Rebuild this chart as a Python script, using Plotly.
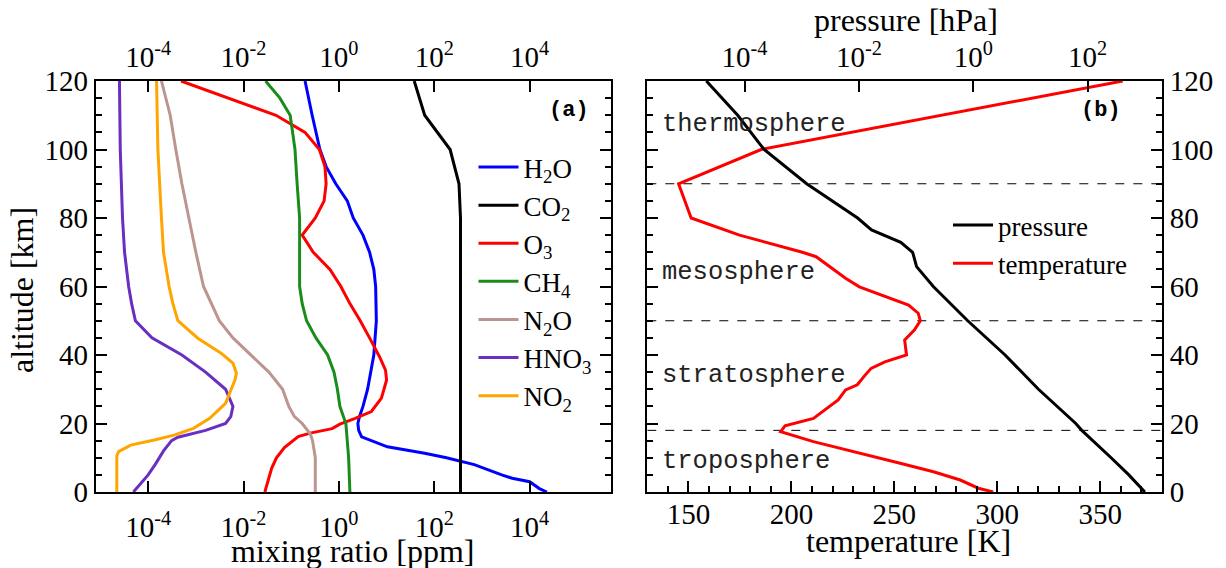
import plotly.graph_objects as go

# ---------------- data: panel (a) mixing ratios [ppm] vs altitude [km] ----------------
h2o_alt = [0, 1, 3, 4, 5, 8, 10, 11.3, 13.2, 15.2, 16.1, 18, 20, 22, 25, 30, 40, 50, 60, 65, 70, 75, 80, 85, 90, 95, 100, 110, 120]
h2o_ppm = [2.3e4, 1.6e4, 1.0e4, 4.3e3, 2.6e3, 690, 180, 63, 10.4, 4.4, 3.0, 2.6, 2.5, 2.7, 3.2, 4.0, 5.4, 6.1, 5.9, 5.4, 4.4, 3.2, 2.0, 1.5, 0.86, 0.54, 0.40, 0.275, 0.195]

co2_alt = [0, 80, 90, 100, 110, 120]
co2_ppm = [355, 355, 330, 215, 63, 38]

o3_alt = [0, 4, 7, 10, 13, 16.2, 17.2, 18.5, 19.8, 21.5, 23.5, 27.4, 32.7, 35.6, 39.5, 45, 50, 55, 60, 65, 70, 75, 80, 85, 90, 95, 100, 105, 110, 120]
o3_ppm = [0.028, 0.034, 0.039, 0.049, 0.072, 0.14, 0.25, 0.72, 1.05, 2.2, 4.8, 7.8, 10, 9.5, 7.1, 4.4, 2.8, 1.7, 1.1, 0.65, 0.29, 0.17, 0.32, 0.49, 0.54, 0.51, 0.39, 0.195, 0.048, 4.9e-4]

ch4_alt = [0, 10, 20, 25, 30, 35, 40, 45, 50, 55, 60, 80, 90, 100, 105, 110, 115, 120]
ch4_ppm = [1.7, 1.6, 1.4, 1.05, 0.93, 0.79, 0.58, 0.33, 0.21, 0.17, 0.15, 0.15, 0.133, 0.12, 0.107, 0.095, 0.058, 0.029]

n2o_alt = [0, 10, 15, 17, 20, 22, 25, 30, 35, 40, 45, 50, 55, 60, 70, 80, 90, 100, 110, 120]
n2o_ppm = [0.32, 0.32, 0.28, 0.25, 0.17, 0.117, 0.089, 0.066, 0.034, 0.0145, 0.006, 0.0031, 0.0021, 0.00145, 0.001, 7.1e-4, 5.1e-4, 3.8e-4, 2.9e-4, 1.9e-4]

hno3_alt = [0, 5, 8, 12, 15, 16, 18, 20, 22, 25, 30, 35, 40, 45, 50, 55, 60, 70, 80, 100, 120]
hno3_ppm = [4.9e-5, 1.0e-4, 1.4e-4, 2.1e-4, 3.1e-4, 4.2e-4, 1.6e-3, 4.2e-3, 5.4e-3, 6.0e-3, 4.2e-3, 1.6e-3, 5.1e-4, 1.2e-4, 5.4e-5, 4.5e-5, 3.9e-5, 3.2e-5, 2.9e-5, 2.6e-5, 2.5e-5]

no2_alt = [0, 10.5, 11.8, 13.7, 15.2, 16.6, 18.6, 21.5, 25.9, 32.7, 34.7, 37.6, 40.5, 44.9, 50, 55, 60, 70, 80, 100, 120]
no2_ppm = [2.2e-5, 2.2e-5, 2.4e-5, 4.3e-5, 1.35e-4, 3.5e-4, 8.9e-4, 1.95e-3, 4.2e-3, 6.6e-3, 7.1e-3, 6.0e-3, 3.4e-3, 1.1e-3, 4.2e-4, 3.3e-4, 2.75e-4, 2.1e-4, 1.9e-4, 1.6e-4, 1.5e-4]

species = ["H<sub>2</sub>O", "CO<sub>2</sub>", "O<sub>3</sub>", "CH<sub>4</sub>", "N<sub>2</sub>O", "HNO<sub>3</sub>", "NO<sub>2</sub>"]

# ---------------- data: panel (b) ----------------
temp_alt = [0, 1.1, 3.5, 5.9, 8.4, 11.3, 14.7, 17.6, 19.3, 21.5, 25, 26.9, 29.8, 31.3, 34.2, 36.1, 38, 40, 44.4, 47.3, 50, 52.2, 54.6, 59.9, 62.4, 65, 68.7, 70, 75, 80, 90, 100, 120]
temp_K = [298, 290.8, 282, 269, 252.8, 233.4, 210.7, 194.8, 196.9, 210.7, 218.7, 222.7, 226.3, 232, 235.9, 238.7, 245.4, 255.9, 255, 259.7, 262.6, 261.6, 256.9, 233, 226.3, 220.6, 212, 205.3, 174.8, 151.3, 145.2, 185.3, 360.9]

pres_alt = [0, 5, 10, 18, 20, 30, 40, 50, 60, 65.8, 70, 72.9, 76.5, 80, 90, 100, 110, 120]
pres_hPa = [1000, 525, 257, 79, 62, 13.8, 3.6, 0.80, 0.20, 0.102, 0.087, 0.054, 0.0166, 0.0095, 0.00122, 2.2e-4, 7.6e-5, 2.15e-5]

layer_bounds = [18, 50, 90]
layer_names = ["troposphere", "stratosphere", "mesosphere", "thermosphere"]
layer_label_alt = [8.8, 34, 64, 107.4]

mix_tickvals = [1e-4, 1e-2, 1, 1e2, 1e4]
mix_ticktext = ["10<sup>-4</sup>", "10<sup>-2</sup>", "10<sup>0</sup>", "10<sup>2</sup>", "10<sup>4</sup>"]
p_tickvals = [1e-4, 1e-2, 1, 1e2]
p_ticktext = ["10<sup>-4</sup>", "10<sup>-2</sup>", "10<sup>0</sup>", "10<sup>2</sup>"]
alt_tickvals = [0, 20, 40, 60, 80, 100, 120]
temp_tickvals = [150, 200, 250, 300, 350]

# ---------------- figure ----------------
SERIF = "Liberation Serif"
MONO = "Liberation Mono"
W, H = 1226, 568


def px_x(p):
    return p / W


def px_y(p):
    return (H - p) / H


xa = [px_x(95.7), px_x(610.7)]
xb = [px_x(647.3), px_x(1162)]
yd = [px_y(492), px_y(81)]

colors = ["#0000ff", "#000000", "#ff0000", "#1a8c1a", "#bc9590", "#6a2ec0", "#ffa500"]
alts = [h2o_alt, co2_alt, o3_alt, ch4_alt, n2o_alt, hno3_alt, no2_alt]
vals = [h2o_ppm, co2_ppm, o3_ppm, ch4_ppm, n2o_ppm, hno3_ppm, no2_ppm]

fig = go.Figure()
for name, a, v, c in zip(species, alts, vals, colors):
    fig.add_trace(go.Scatter(x=v, y=a, mode="lines", name=name, line=dict(color=c, width=3),
                             xaxis="x", yaxis="y", legend="legend"))
# carrier for the top mixing-ratio axis
fig.add_trace(go.Scatter(x=co2_ppm, y=co2_alt, mode="lines", opacity=0, showlegend=False,
                         hoverinfo="skip", xaxis="x4", yaxis="y"))

for b in layer_bounds:
    fig.add_trace(go.Scatter(x=[130, 380], y=[b, b], mode="lines", showlegend=False,
                             line=dict(color="black", width=1, dash="dash"), xaxis="x2", yaxis="y2"))

fig.add_trace(go.Scatter(x=pres_hPa, y=pres_alt, mode="lines", name="pressure",
                         line=dict(color="black", width=3), xaxis="x3", yaxis="y2", legend="legend2"))
fig.add_trace(go.Scatter(x=temp_K, y=temp_alt, mode="lines", name="temperature",
                         line=dict(color="#ff0000", width=3), xaxis="x2", yaxis="y2", legend="legend2"))


def ax(**kw):
    d = dict(showgrid=False, zeroline=False, showline=True, linecolor="black", linewidth=2,
             ticks="inside", ticklen=11, tickwidth=2, tickcolor="black", automargin=False,
             tickfont=dict(family=SERIF, size=29, color="black"))
    d.update(kw)
    return d


minor_y = dict(dtick=5, ticklen=6, tickwidth=2, ticks="inside", tickcolor="black")

fig.update_layout(
    width=W, height=H, margin=dict(l=0, r=0, t=0, b=0, autoexpand=False),
    paper_bgcolor="white", plot_bgcolor="white",
    font=dict(family=SERIF, color="black", size=28),
    xaxis=ax(type="log", range=[-5.1, 5.7], domain=xa, anchor="y",
             tickvals=mix_tickvals, ticktext=mix_ticktext, ticklabelstandoff=8),
    xaxis4=ax(type="log", range=[-5.1, 5.7], domain=xa, anchor="y",
              overlaying="x", side="top", tickvals=mix_tickvals, ticktext=mix_ticktext),
    yaxis=ax(range=[0, 120], domain=yd, anchor="x", tickvals=alt_tickvals, mirror="ticks", minor=minor_y),
    xaxis2=ax(range=[130, 380], domain=xb, anchor="y2", tickvals=temp_tickvals, ticklabelstandoff=-5,
              minor=dict(dtick=10, tick0=130, ticklen=6, tickwidth=2, ticks="inside", tickcolor="black")),
    xaxis3=ax(type="log", range=[-5.7, 3.3], domain=xb, anchor="y2",
              overlaying="x2", side="top", tickvals=p_tickvals, ticktext=p_ticktext),
    yaxis2=ax(range=[0, 120], domain=yd, anchor="x2", side="right",
              tickvals=alt_tickvals, mirror="ticks", minor=minor_y),
    legend=dict(x=px_x(473.5), y=px_y(143), xanchor="left", yanchor="top", bgcolor="rgba(0,0,0,0)",
                font=dict(family=SERIF, size=27, color="black"), itemwidth=40),
    legend2=dict(x=px_x(948), y=px_y(201), xanchor="left", yanchor="top", bgcolor="rgba(0,0,0,0)",
                 font=dict(family=SERIF, size=27, color="black"), itemwidth=40),
    showlegend=True,
)

# axis titles
titles = [("mixing ratio [ppm]", 353, 551, 0), ("temperature [K]", 908, 541, 0),
          ("pressure [hPa]", 906, 20, 0), ("altitude [km]", 22, 290, -90)]
for text, tx, ty, ang in titles:
    fig.add_annotation(text=text, x=px_x(tx), y=px_y(ty), xref="paper", yref="paper", showarrow=False,
                       xanchor="center", yanchor="middle", textangle=ang,
                       font=dict(family=SERIF, size=32, color="black"))

# panel tags
fig.add_annotation(text="<b>(a)</b>", x=px_x(569), y=111.5, xref="paper", yref="y", showarrow=False,
                   font=dict(family=MONO, size=22, color="black"))
fig.add_annotation(text="<b>(b)</b>", x=px_x(1123), y=111.5, xref="paper", yref="y2", showarrow=False,
                   font=dict(family=MONO, size=22, color="black"))

for name, a in zip(layer_names, layer_label_alt):
    fig.add_annotation(text=name, x=136, y=a, xref="x2", yref="y2", xanchor="left", showarrow=False,
                       font=dict(family=MONO, size=25.5, color="#222222"))

fig.write_html("out.html", config={"displayModeBar": False},
               post_script="document.body.style.margin='0px';")
